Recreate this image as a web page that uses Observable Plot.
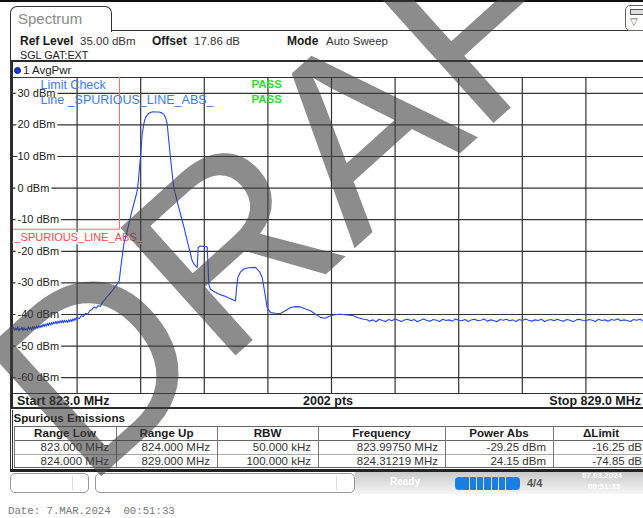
<!DOCTYPE html>
<html><head><meta charset="utf-8">
<script src="https://cdn.jsdelivr.net/npm/d3@7"></script>
<script src="https://cdn.jsdelivr.net/npm/@observablehq/plot@0.6"></script>
<style>
html,body{margin:0;padding:0;overflow:hidden;}
body{width:643px;height:518px;background:#fff;position:relative;font-family:"Liberation Sans",Arial,sans-serif;color:#1a1a1a;}
.t{position:absolute;white-space:nowrap;line-height:14px;height:14px;}
.b{font-weight:bold;}
.box{position:absolute;box-sizing:border-box;}
</style></head>
<body>
<div id="root"></div>
<script>
// ---------- data ----------
const levelTicks = [30, 20, 10, 0, -10, -20, -30, -40, -50, -60];
const freqGrid = [823.6, 824.2, 824.8, 825.4, 826.0, 826.6, 827.2, 827.8, 828.4];
const limitFreq = [823.0, 824.0, 824.0];
const limitLevel = [-13, -13, 35];

// trace segment 1: low-side noise (823.00 - 824.00 MHz)
const lowFreq = [
 823.00,823.01,823.02,823.03,823.04,823.05,823.06,823.07,823.08,823.09,
 823.10,823.11,823.12,823.13,823.14,823.15,823.16,823.17,823.18,823.19,
 823.20,823.21,823.22,823.23,823.24,823.25,823.26,823.27,823.28,823.29,
 823.30,823.31,823.32,823.33,823.34,823.35,823.36,823.37,823.38,823.39,
 823.40,823.41,823.42,823.43,823.44,823.45,823.46,823.47,823.48,823.49,
 823.50,823.51,823.52,823.53,823.54,823.55,823.56,823.57,823.58,823.59,
 823.60,823.62,823.64,823.66,823.68,823.70,823.72,823.74,823.76,823.78,
 823.80,823.82,823.84,823.86,823.88,823.90,823.92,823.94,823.96,823.98,
 823.9975
];
const lowPower = [
 -44.1,-45.0,-44.3,-44.9,-43.9,-45.2,-44.4,-44.8,-44.0,-45.1,
 -44.2,-44.9,-44.5,-45.0,-43.9,-44.7,-44.1,-44.9,-43.8,-44.6,
 -43.9,-44.5,-43.6,-44.4,-43.5,-44.2,-43.4,-44.0,-43.1,-43.8,
 -43.0,-43.6,-42.8,-43.5,-42.6,-43.3,-42.5,-43.1,-42.4,-42.9,
 -42.2,-42.9,-42.1,-42.7,-42.0,-42.6,-41.9,-42.6,-41.8,-42.4,
 -41.9,-42.5,-41.7,-42.3,-41.6,-42.2,-41.4,-42.0,-41.2,-41.7,
 -40.9,-41.3,-40.4,-40.6,-39.6,-39.9,-38.8,-38.4,-37.6,-38.0,
 -37.2,-37.5,-36.1,-35.4,-34.4,-33.8,-32.9,-32.1,-31.2,-30.3,
 -29.3
];
// trace segment 2: carrier and spurs (824.0 - 826.3 MHz)
const carrierFreq = [
 824.016,824.041,824.065,824.088,824.11,824.135,824.155,824.167,824.18,824.19,
 824.198,824.214,824.23,824.245,824.27,824.292,824.312,824.34,824.371,824.40,
 824.418,824.435,824.45,824.465,824.481,824.497,824.512,824.545,824.575,824.61,
 824.639,824.665,824.686,824.71,824.733,824.738,824.742,824.764,824.80,824.827,
 824.835,824.842,824.858,824.90,824.94,824.984,825.03,825.07,825.094,825.105,
 825.116,825.14,825.173,825.22,825.283,825.32,825.346,825.368,825.393,825.425,
 825.47,825.519,825.56,825.613,825.66,825.708,825.75,825.802,825.85,825.896,
 825.94,825.991,826.04,826.085,826.13,826.208,826.25,826.302
];
const carrierPower = [
 -24.0,-17.7,-14.5,-11.4,-8.2,-5.0,-2.5,-0.9,3.0,7.0,
 9.7,17.1,20.5,22.3,23.5,23.9,24.15,24.1,24.1,23.8,
 23.4,22.3,20.3,15.0,9.7,4.5,0.2,-4.3,-8.2,-12.6,
 -16.7,-20.2,-23.0,-24.4,-25.1,-22.0,-18.8,-18.3,-18.5,-18.6,
 -24.0,-30.4,-32.0,-32.9,-33.6,-34.1,-34.8,-35.3,-35.7,-31.5,
 -28.3,-26.6,-25.6,-25.2,-25.1,-26.4,-28.3,-32.5,-37.8,-39.4,
 -39.6,-39.7,-38.9,-37.8,-37.5,-37.6,-38.2,-38.8,-39.9,-40.9,
 -41.2,-40.4,-40.0,-39.9,-40.1,-40.4,-41.0,-41.5
];
// trace segment 3: noise floor (826.3 - 829.0 MHz)
const floorFreq = [
 826.33,826.36,826.39,826.42,826.45,826.48,826.51,826.54,826.57,826.60,
 826.63,826.66,826.69,826.72,826.75,826.78,826.81,826.84,826.87,826.90,
 826.93,826.96,826.99,827.02,827.05,827.08,827.11,827.14,827.17,827.20,
 827.23,827.26,827.29,827.32,827.35,827.38,827.41,827.44,827.47,827.50,
 827.53,827.56,827.59,827.62,827.65,827.68,827.71,827.74,827.77,827.80,
 827.83,827.86,827.89,827.92,827.95,827.98,828.01,828.04,828.07,828.10,
 828.13,828.16,828.19,828.22,828.25,828.28,828.31,828.34,828.37,828.40,
 828.43,828.46,828.49,828.52,828.55,828.58,828.61,828.64,828.67,828.70,
 828.73,828.76,828.79,828.82,828.85,828.88,828.91,828.94,828.97,829.00
];
const floorPower = [
 -41.6,-42.1,-41.7,-42.3,-41.5,-41.9,-42.2,-41.6,-42.0,-41.4,
 -41.8,-42.2,-41.7,-41.5,-42.0,-41.6,-42.3,-41.8,-41.4,-41.9,
 -42.1,-41.6,-41.8,-42.2,-41.5,-41.9,-41.7,-42.1,-41.4,-41.8,
 -42.0,-41.6,-42.2,-41.7,-41.5,-42.0,-41.8,-41.4,-42.1,-41.7,
 -41.9,-42.3,-41.6,-41.8,-41.5,-42.0,-41.7,-42.2,-41.6,-41.9,
 -41.4,-41.8,-42.1,-41.7,-41.9,-41.5,-42.2,-41.8,-41.6,-42.0,
 -41.5,-41.9,-42.1,-41.6,-41.8,-42.3,-41.7,-41.5,-41.9,-42.0,
 -41.6,-41.8,-42.2,-41.5,-41.9,-41.7,-42.1,-41.6,-41.8,-41.4,
 -42.0,-41.7,-41.9,-42.2,-41.6,-41.8,-41.5,-42.0,-41.7,-41.9
];
const limitChecks = ["Limit Check", "Line _SPURIOUS_LINE_ABS_"];
const limitResults = ["PASS", "PASS"];
const tableHeaders = ["Range Low", "Range Up", "RBW", "Frequency", "Power Abs", "\u0394Limit"];
const rangeLow = ["823.000 MHz", "824.000 MHz"];
const rangeUp = ["824.000 MHz", "829.000 MHz"];
const rbw = ["50.000 kHz", "100.000 kHz"];
const peakFreq = ["823.99750 MHz", "824.31219 MHz"];
const powerAbs = ["-29.25 dBm", "24.15 dBm"];
const deltaLimit = ["-16.25 dB", "-74.85 dB"];

// ---------- helpers ----------
const root = document.getElementById("root");
function txt(s, x, cy, size, opts = {}) {
  const d = document.createElement("div");
  d.className = "t" + (opts.bold ? " b" : "");
  d.textContent = s;
  d.style.fontSize = size + "px";
  d.style.top = (cy - 7) + "px";
  if (opts.color) d.style.color = opts.color;
  if (opts.family) d.style.fontFamily = opts.family;
  if (opts.anchor === "end") { d.style.right = (643 - x) + "px"; }
  else if (opts.anchor === "middle") { d.style.left = x + "px"; d.style.transform = "translateX(-50%)"; }
  else d.style.left = x + "px";
  root.appendChild(d);
  return d;
}
function box(x, y, w, h, css) {
  const d = document.createElement("div");
  d.className = "box";
  Object.assign(d.style, {left: x + "px", top: y + "px", width: w + "px", height: h + "px"}, css || {});
  root.appendChild(d);
  return d;
}

// ---------- chrome ----------
box(0, 0, 643, 2, {background: "#111"});
box(10, 30, 660, 442, {borderLeft: "1.5px solid #333", borderTop: "1.5px solid #333"});
box(10, 6, 102, 26, {border: "1.5px solid #333", borderBottom: "none", borderRadius: "7px 7px 0 0", background: "#fff"});
txt("Spectrum", 18, 18.5, 15, {color: "#8a8a8a"});
box(625, 5, 24, 26, {border: "1.3px solid #666", borderRadius: "5px", background: "#fff"});
box(630, 9, 14, 6, {border: "1px solid #555", background: "#ddd"});
txt("\u25BD", 630, 22, 10, {color: "#555"});

txt("Ref Level", 20, 41, 12, {bold: true});
txt("35.00 dBm", 80, 41, 11.5, {color: "#333"});
txt("Offset", 152, 41, 12, {bold: true});
txt("17.86 dB", 194, 41, 11.5, {color: "#333"});
txt("Mode", 287, 41, 12, {bold: true});
txt("Auto Sweep", 326, 41, 11.5, {color: "#333"});
txt("SGL GAT:EXT", 20, 54.5, 10.8, {color: "#222"});

// diagram frame
box(11, 60, 660, 349, {border: "2px solid #2b2b2b", background: "#fff"});

// ---------- the chart ----------
const trace = [
  ...lowFreq.map((f, i) => ({f, p: lowPower[i]})),
  ...carrierFreq.map((f, i) => ({f, p: carrierPower[i]})),
  ...floorFreq.map((f, i) => ({f, p: floorPower[i]}))
];
const limit = limitFreq.map((f, i) => ({f, l: limitLevel[i]}));
const checkMarks = limitChecks.flatMap((s, i) => [
  Plot.text([s], {frameAnchor: "top-left", dx: 27, dy: 7 + i * 15, lineAnchor: "middle",
    textAnchor: "start", fontSize: 12.5, fill: "#3b7bff"}),
  Plot.text([limitResults[i]], {frameAnchor: "top-left", dx: 238, dy: 7 + i * 15, lineAnchor: "middle",
    textAnchor: "start", fontSize: 11.5, fontWeight: "bold", fill: "#2fe02f"})
]);
const chart = Plot.plot({
  width: 660, height: 345,
  marginLeft: 13, marginRight: 11, marginTop: 15, marginBottom: 14,
  style: {background: "transparent", fontFamily: "Liberation Sans, Arial, sans-serif", overflow: "visible", maxWidth: "none"},
  x: {domain: [823, 829], axis: null},
  y: {domain: [-65, 35], axis: null},
  marks: [
    Plot.ruleX(freqGrid, {stroke: "#333", strokeWidth: 1.2}),
    Plot.ruleY(levelTicks, {stroke: "#333", strokeWidth: 1.2}),
    Plot.ruleY([35, -65], {stroke: "#333", strokeWidth: 1.2}),
    Plot.text(levelTicks, {x: 823, y: d => d, text: d => `${d} dBm`, dx: 4, textAnchor: "start",
      fontSize: 11, fill: "#222", stroke: "#fff", strokeWidth: 5}),
    Plot.line(limit, {x: "f", y: "l", stroke: "#ff6a6a", strokeWidth: 1}),
    Plot.text(["_SPURIOUS_LINE_ABS_"], {x: 823, y: -13, dx: 1, dy: 8, textAnchor: "start",
      fontSize: 11, fill: "#ff4a4a", stroke: "#fff", strokeWidth: 3}),
    Plot.line(trace, {x: "f", y: "p", stroke: "#2446ff", strokeWidth: 1.1}),
    ...checkMarks
  ]
});
chart.style.position = "absolute";
chart.style.left = "0px";
chart.style.top = "62px";
chart.style.maxWidth = "none";
chart.style.width = "660px";
chart.style.height = "345px";
root.appendChild(chart);

box(14, 66.5, 7, 7, {borderRadius: "50%", background: "#1436e6", border: "1px solid #0a1a80"});
txt("1 AvgPwr", 23, 70, 11.5, {color: "#222"});
txt("Start 823.0 MHz", 17, 400.5, 12.5, {bold: true});
txt("2002 pts", 328, 400.5, 12.5, {bold: true, anchor: "middle"});
txt("Stop 829.0 MHz", 641, 400.5, 12.5, {bold: true, anchor: "end"});

// ---------- spurious emissions table ----------
txt("Spurious Emissions", 13.5, 418, 11.6, {bold: true});
const colX = [14, 116, 217, 318, 445, 553, 649];
box(12, 410, 660, 62, {borderLeft: "1.5px solid #333"});
box(14, 426, 660, 41, {background: "#fff"});
[426, 439.5, 467].forEach(y => box(14, y, 660, 1, {background: "#666"}));
box(14, 453.5, 660, 1, {background: "#aaa"});
colX.slice(0, 6).forEach(x => box(x, 426, 1, 41, {background: "#777"}));
box(10, 469, 643, 3, {background: "#222"});
tableHeaders.forEach((h, i) => txt(h, (colX[i] + colX[i + 1]) / 2, 433, 11.6, {bold: true, anchor: "middle"}));
const cols = [rangeLow, rangeUp, rbw, peakFreq, powerAbs, deltaLimit];
cols.forEach((c, i) => c.forEach((v, r) => txt(v, colX[i + 1] - 7, 447 + r * 14, 11.5, {anchor: "end", color: "#333"})));

// ---------- status bar ----------
box(355, 472, 300, 22, {background: "linear-gradient(#c9c9c9, #f6f6f6)"});
box(10, 473, 79, 20, {border: "1px solid #999", borderRadius: "5px", background: "#fff"});
box(72, 476, 1, 14, {background: "#ddd"});
box(95, 473, 260, 20, {border: "1px solid #999", borderRadius: "5px", background: "#fff"});
box(336, 476, 1, 14, {background: "#ddd"});
txt("Ready", 390, 482, 10, {bold: true, color: "#fff"});
for (let k = 0; k < 9; k++) box(455 + k * 7.3, 477, 6.5, 13, {background: "#1a7fe2", borderRadius: k === 0 ? "4px 1px 1px 4px" : (k === 8 ? "1px 4px 4px 1px" : "1px")});
txt("4/4", 527, 483, 11, {bold: true, color: "#555"});
txt("07.03.2024", 582, 476, 8, {bold: true, color: "#fff"});
txt("00:51:33", 588, 487, 8, {bold: true, color: "#fff"});

// ---------- footer ----------
txt("Date: 7.MAR.2024  00:51:33", 8, 511, 10.7, {family: "Liberation Mono, Courier New, monospace", color: "#777"}).style.whiteSpace = "pre";

// ---------- watermark ----------
const ns = "http://www.w3.org/2000/svg";
const wm = document.createElementNS(ns, "svg");
wm.setAttribute("width", 643); wm.setAttribute("height", 518);
Object.assign(wm.style, {position: "absolute", left: "0px", top: "0px", pointerEvents: "none"});
const wt = document.createElementNS(ns, "text");
wt.setAttribute("x", 86); wt.setAttribute("y", 490);
wt.setAttribute("transform", "rotate(-42 86 490)");
wt.setAttribute("font-family", "Liberation Sans, Arial, sans-serif");
wt.setAttribute("font-size", 250);
wt.setAttribute("fill", "#404040");
wt.setAttribute("fill-opacity", 0.6);
wt.textContent = "DRAFT";
wm.appendChild(wt);
root.appendChild(wm);
</script>
</body></html>
